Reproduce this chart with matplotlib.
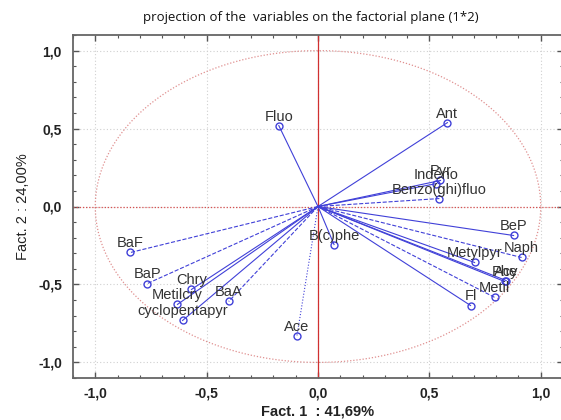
import matplotlib
matplotlib.use("Agg")
import matplotlib.pyplot as plt
import numpy as np
from matplotlib.ticker import MultipleLocator, FuncFormatter

# ---- data (loadings on factor 1 and factor 2) ----
variables = ["Fluo", "Ant", "Pyr", "Indeno", "Benzo(ghi)fluo", "BeP", "Naph",
             "Metylpyr", "Phe", "Acy", "Metil", "Fl", "B(c)phe", "Ace", "BaA",
             "Chry", "Metilcry", "cyclopentapyr", "BaP", "BaF"]
fact1 = [-0.176, 0.581, 0.550, 0.532, 0.545, 0.878, 0.914,
         0.703, 0.838, 0.845, 0.793, 0.685, 0.072, -0.095, -0.401,
         -0.568, -0.631, -0.608, -0.766, -0.842]
fact2 = [0.519, 0.538, 0.167, 0.147, 0.051, -0.186, -0.327,
         -0.359, -0.481, -0.475, -0.583, -0.635, -0.244, -0.833, -0.609,
         -0.532, -0.628, -0.731, -0.494, -0.295]

title = "projection of the  variables on the factorial plane (1*2)"
xlabel = "Fact. 1  : 41,69%"
ylabel = "Fact. 2 : 24,00%"

# line styles per vector (styling only)
line_styles = ["-", "-", "-", "-", "--", "-", "--",
               "-", "-", "-", "--", "-", "-", ":", "--",
               "-", "-", "-", "--", "--"]

blue = "#4040d8"
red = "#d03030"

fig = plt.figure(figsize=(5.61, 4.20), dpi=100)
ax = fig.add_axes([73 / 561, 42 / 420, 490 / 561, 343 / 420])
ax.set_xlim(-1.1, 1.1)
ax.set_ylim(-1.1, 1.1)

# grid
ax.xaxis.set_major_locator(MultipleLocator(0.5))
ax.yaxis.set_major_locator(MultipleLocator(0.5))
ax.xaxis.set_minor_locator(MultipleLocator(0.1))
ax.yaxis.set_minor_locator(MultipleLocator(0.1))
ax.grid(True, which="major", color="#d0d0d0", linestyle=(0, (1, 2)), linewidth=0.8)
ax.set_axisbelow(True)

# unit circle
t = np.linspace(0, 2 * np.pi, 400)
ax.plot(np.cos(t), np.sin(t), color="#e09090", linestyle=(0, (1, 1.5)), linewidth=0.9)

# cross lines
ax.axvline(0, color=red, linewidth=0.9)
ax.axhline(0, color="#d85050", linewidth=0.9, linestyle=(0, (1, 1.5)))

# vectors
for x, y, ls in zip(fact1, fact2, line_styles):
    ax.plot([0, x], [0, y], color=blue, linestyle=ls, linewidth=0.8)
ax.plot(fact1, fact2, "o", mfc="none", mec=blue, ms=5, mew=1.0, linestyle="none")

for name, x, y in zip(variables, fact1, fact2):
    ax.annotate(name, (x, y), xytext=(0, 6.5), textcoords="offset points",
                ha="center", va="center", fontsize=10.5, color="#333333",
                family="Liberation Sans")

# ticks
fmt = FuncFormatter(lambda v, p: f"{v:.1f}".replace(".", ",").replace("-0,0", "0,0"))
ax.xaxis.set_major_formatter(fmt)
ax.yaxis.set_major_formatter(fmt)
ax.tick_params(which="both", direction="in", top=True, right=True, color="#555555")
ax.tick_params(which="major", length=4, width=1)
ax.tick_params(which="minor", length=2.5, width=0.8)
ax.tick_params(axis="x", pad=6)
ax.tick_params(axis="y", pad=8)
for lab in ax.get_xticklabels() + ax.get_yticklabels():
    lab.set_fontfamily("Liberation Sans")
    lab.set_fontweight("bold")
    lab.set_fontsize(10)
    lab.set_color("#222222")
for s in ax.spines.values():
    s.set_color("#666666")
    s.set_linewidth(1.3)

ax.set_xlabel(xlabel, fontsize=10.5, fontweight="bold", family="Liberation Sans",
              color="#222222", labelpad=3)
ax.set_ylabel(ylabel, fontsize=10.5, family="Liberation Sans", color="#222222", labelpad=6)

fig.text(311 / 561, 1 - 18 / 420, title, ha="center", va="center",
         fontsize=9.5, family="Open Sans", color="#111111")

fig.savefig("out.png", dpi=100)
